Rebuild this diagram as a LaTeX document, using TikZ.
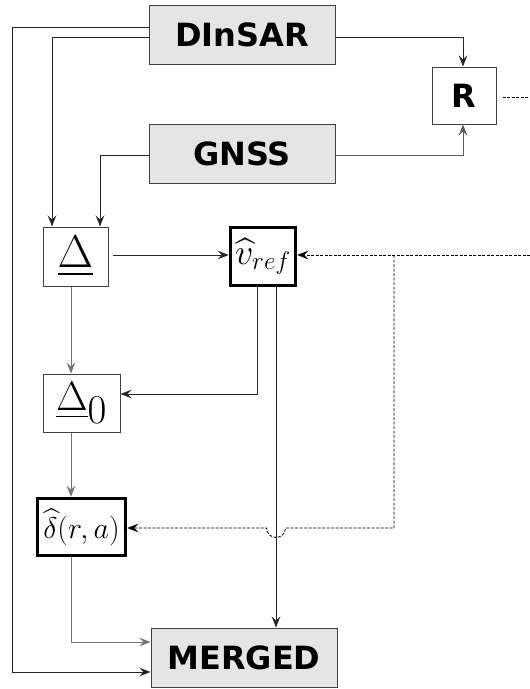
\RequirePackage{fix-cm}
\documentclass[tikz,border=0pt]{standalone}
\usepackage{fontspec}
\usepackage{amsmath}
\newfontfamily\boxfont{DejaVu Sans}
\usetikzlibrary{arrows.meta}
\DeclareFontShape{OMX}{cmex}{m}{n}{<->cmex10}{}
\begin{document}
\begin{tikzpicture}[x=1pt,y=-1pt,
  tip/.style={-{Stealth[length=11pt,width=8.5pt,inset=4pt]}},
  link/.style={line width=0.9pt,draw=black!85,tip},
  glink/.style={line width=1pt,draw=black!55,tip},
  dlink/.style={line width=0.8pt,draw=black,dash pattern=on 3pt off 1.5pt},
  graybox/.style={draw=black!75,line width=1pt,fill=black!10,inner sep=0pt,
     font=\boxfont\bfseries\fontsize{32}{32}\selectfont},
  thinbox/.style={draw=black!75,line width=1pt,fill=white,inner sep=0pt},
  thickbox/.style={draw=black,line width=3.5pt,fill=white,inner sep=0pt}]
\useasboundingbox (0,0) rectangle (530,689);

\node[graybox,minimum width=186pt,minimum height=59pt] (dinsar) at (242,34.5) {DInSAR};
\node[graybox,minimum width=186pt,minimum height=59pt] (gnss) at (242,153.5) {GNSS};
\node[graybox,minimum width=186pt,minimum height=59pt] (merged) at (244,657.5) {MERGED};
\node[thinbox,minimum width=64pt,minimum height=57pt,
      font=\boxfont\bfseries\fontsize{32}{32}\selectfont] (r) at (464,95.5) {R};
\node[thinbox,minimum width=65pt,minimum height=59pt,
      font=\fontsize{46}{46}\selectfont] (delta) at (75.5,256.5) {$\underline{\Delta}$};
\node[thickbox,minimum width=65pt,minimum height=58pt,
      font=\fontsize{36}{36}\selectfont] (vref) at (263,256.5) {$\widehat{v}_{ref}$};
\node[thinbox,minimum width=77pt,minimum height=58pt,
      font=\fontsize{41}{41}\selectfont] (delta0) at (81.5,403) {$\underline{\Delta}_{\textstyle 0}$};
\node[thickbox,minimum width=88pt,minimum height=57pt,
      font=\fontsize{30}{30}\selectfont] (dra) at (81.5,527) {$\widehat{\delta}(r,a)$};

% coordinates for free ends
\coordinate (redge) at (530,97);
\coordinate (vedge) at (530,255);

% DInSAR outer loop to MERGED
\draw[link] (dinsar.west |- 0,27) -- (12,27) -- (12,672) -- (merged.west |- 0,672);
% DInSAR to Delta
\draw[link] (dinsar.west |- 0,37) -- (52,37) -- (delta.north -| 52,0);
% GNSS to Delta
\draw[link] (gnss.west |- 0,155) -- (100,155) -- (delta.north -| 100,0);
% DInSAR to R
\draw[link] (dinsar.east |- 0,37) -- (463,37) -- (r.north -| 463,0);
% GNSS to R
\draw[link,draw=black!65] (gnss.east |- 0,155) -- (463,155) -- (r.south -| 463,0);
% R dashed out
\draw[dlink] (r.east |- redge) ++(6,0) -- (redge);
% Delta to vref
\draw[link] (delta.east |- 0,255) ++(4,0) -- (vref.west |- 0,255);
% dashed into vref and dra
\draw[dlink,tip] (vedge) -- (vref.east |- vedge);
\draw[dlink,tip] (394,255) -- (394,528) -- (285.5,528)
   arc[start angle=0,end angle=180,radius=9.5] -- (dra.east |- 0,528);
% vref to Delta0
\draw[link] (vref.south -| 257,0) -- (257,394) -- (delta0.east |- 0,394);
% vref to MERGED
\draw[link] (vref.south -| 276,0) -- (merged.north -| 276,0);
% Delta -> Delta0 -> dra
\draw[glink] (delta.south -| 71,0) -- (delta0.north -| 71,0);
\draw[glink] (delta0.south -| 71,0) -- (dra.north -| 71,0);
% dra to MERGED
\draw[glink] (dra.south -| 71,0) -- (71,642) -- (merged.west |- 0,642);
\end{tikzpicture}
\end{document}
